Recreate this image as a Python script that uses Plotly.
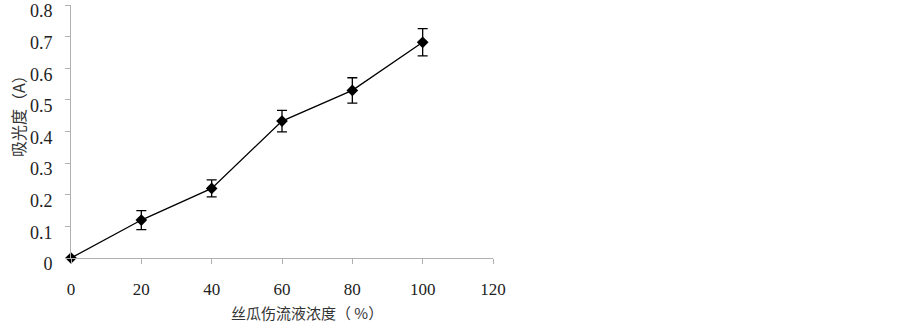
import plotly.graph_objects as go

conc = [0, 20, 40, 60, 80, 100]
absorb = [0.0, 0.12, 0.22, 0.433, 0.53, 0.682]
err = [0.0, 0.03, 0.027, 0.034, 0.04, 0.043]
x_ticks = [0, 20, 40, 60, 80, 100, 120]
y_ticks = [0, 0.1, 0.2, 0.3, 0.4, 0.5, 0.6, 0.7, 0.8]
y_tick_text = ["0", "0.1", "0.2", "0.3", "0.4", "0.5", "0.6", "0.7", "0.8"]

L, R, T, B = 71, 493, 5, 258
W, H = 903, 323

fig = go.Figure()
fig.add_trace(go.Scatter(
    x=conc, y=absorb, mode="lines+markers",
    line=dict(color="black", width=1.3),
    marker=dict(symbol="diamond", size=9, color="black"),
    error_y=dict(type="data", array=err, visible=True, color="black", thickness=1.3, width=5),
    showlegend=False, cliponaxis=False,
))

serif = "Times New Roman, Liberation Serif, Noto Sans CJK SC, serif"
fig.update_layout(
    width=W, height=H,
    margin=dict(l=L, r=W - R, t=T, b=H - B, autoexpand=False),
    paper_bgcolor="white", plot_bgcolor="white",
    font=dict(family=serif, size=18, color="#222"),
    xaxis=dict(range=[0, 120], tickvals=x_ticks, showgrid=False, zeroline=False,
               showline=True, linecolor="#b0b0b0", linewidth=1, automargin=False,
               ticks="outside", ticklen=5, tickcolor="#b0b0b0",
               tickfont=dict(size=17), ticklabelstandoff=11),
    yaxis=dict(range=[0, 0.8], tickvals=y_ticks, ticktext=y_tick_text, showgrid=False, zeroline=False,
               showline=True, linecolor="#b0b0b0", linewidth=1, automargin=False,
               ticks="outside", ticklen=5, tickcolor="#b0b0b0",
               ticklabelstandoff=9, ticklabelshift=6),
)
pw, ph = R - L, B - T
fig.add_annotation(text="吸光度（A）", xref="paper", yref="paper",
                   x=(18 - L) / pw, y=(B - 112) / ph, xanchor="center", yanchor="middle",
                   showarrow=False, textangle=-90, borderpad=0,
                   font=dict(size=16, family="Noto Sans CJK SC", color="#333"))
fig.add_annotation(text="丝瓜伤流液浓度（ %）", xref="paper", yref="paper",
                   x=(307 - L) / pw, y=(B - 312) / ph, xanchor="center", yanchor="middle",
                   showarrow=False, borderpad=0,
                   font=dict(size=15, family="Noto Sans CJK SC", color="#333"))
fig.write_html("out.html", config={"displayModeBar": False},
               post_script="document.body.style.margin='0';document.body.style.overflow='hidden';")
